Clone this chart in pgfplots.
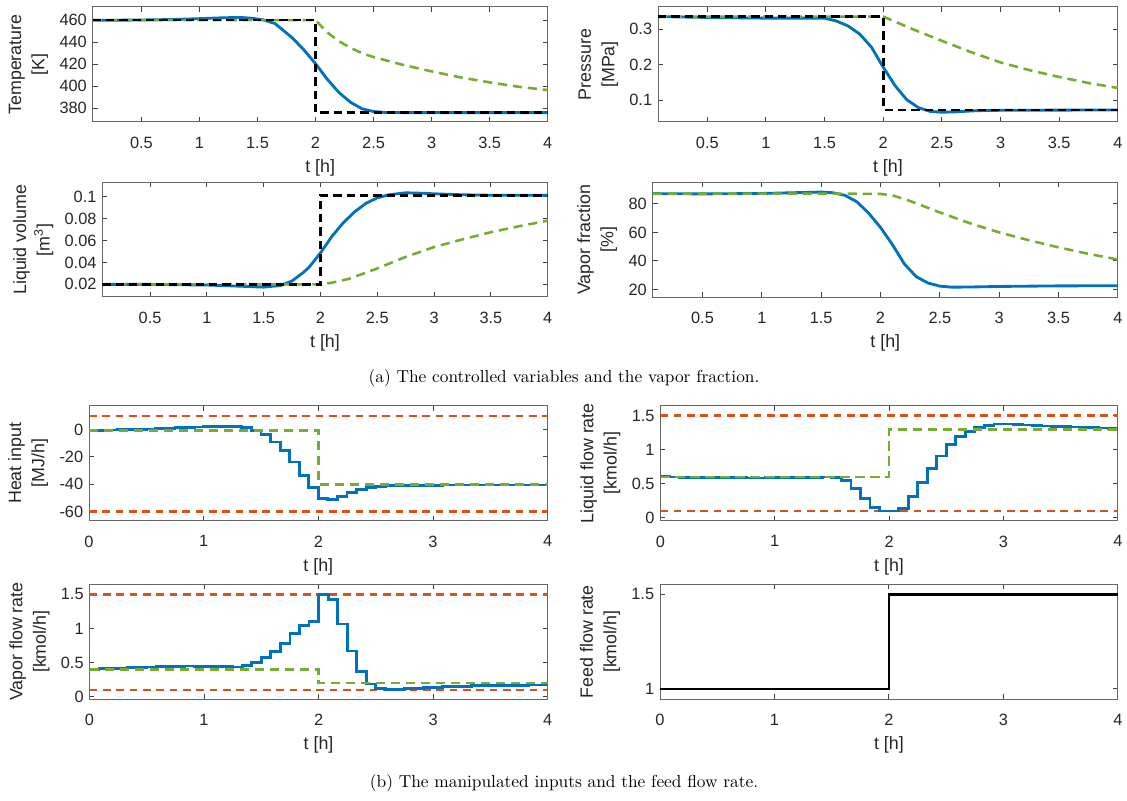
\documentclass[border=0pt]{standalone}
\usepackage{fontspec}
\usepackage{pgfplots}
\usepackage{pgfplotstable}
\pgfplotsset{compat=1.18}
\newfontfamily\mfont{Liberation Sans}
\definecolor{mblue}{rgb}{0,0.447,0.741}
\definecolor{mgreen}{rgb}{0.466,0.674,0.188}
\definecolor{morange}{rgb}{0.85,0.325,0.098}

\pgfplotstableread{
t      heat   liq    vap
0.0000 -0.5   0.600  0.405
0.0833 -0.5   0.598  0.408
0.1667 -0.4   0.596  0.412
0.2500 -0.3   0.594  0.418
0.3333 -0.2   0.592  0.424
0.4167 0.0    0.590  0.430
0.5000 0.3    0.588  0.436
0.5833 0.6    0.586  0.441
0.6667 0.9    0.585  0.445
0.7500 1.2    0.584  0.448
0.8333 1.5    0.584  0.450
0.9167 1.8    0.585  0.449
1.0000 2.0    0.586  0.446
1.0833 2.2    0.588  0.442
1.1667 2.4    0.591  0.438
1.2500 2.3    0.594  0.437
1.3333 1.5    0.597  0.46
1.4167 -0.8   0.598  0.50
1.5000 -3.9   0.594  0.57
1.5833 -9.2   0.55   0.665
1.6667 -15.2  0.433  0.783
1.7500 -23.8  0.287  0.93
1.8333 -33.5  0.154  1.05
1.9167 -42.6  0.100  1.10
2.0000 -50.2  0.100  1.50
2.0833 -51.2  0.138  1.43
2.1667 -49.0  0.310  1.066
2.2500 -46.0  0.516  0.671
2.3333 -44.0  0.726  0.368
2.4167 -42.6  0.908  0.188
2.5000 -41.6  1.079  0.124
2.5833 -41.1  1.190  0.110
2.6667 -40.9  1.264  0.110
2.7500 -40.8  1.328  0.115
2.8333 -40.7  1.357  0.122
2.9167 -40.7  1.377  0.130
3.0000 -40.7  1.377  0.140
3.0833 -40.6  1.370  0.146
3.1667 -40.6  1.362  0.152
3.2500 -40.6  1.355  0.156
3.3333 -40.6  1.348  0.160
3.4167 -40.5  1.342  0.163
3.5000 -40.5  1.337  0.165
3.5833 -40.5  1.332  0.167
3.6667 -40.5  1.327  0.168
3.7500 -40.5  1.322  0.170
3.8333 -40.5  1.318  0.171
3.9167 -40.5  1.315  0.172
4.0000 -40.5  1.315  0.172
}\inputs

\pgfplotsset{
  mstyle/.style={
    scale only axis, anchor=north west,
    axis line style={draw=black!60, line width=0.6pt},
    tick style={draw=black!75, line width=0.6pt},
    major tick length=3pt,
    tick align=inside,
    minor tick num=0,
    ticklabel style={font=\fontsize{9.8}{11}\mfont, text=black!85},
    xticklabel style={yshift=-5.5pt},
    label style={font=\fontsize{10.7}{14}\mfont, text=black!85},
    ylabel style={align=center},
    xlabel={t [h]},
    /pgf/number format/assume math mode=true,
    scaled ticks=false,
  },
  toprow/.style={mstyle, xmin=0.08, xmax=4, xtick={0.5,1,1.5,2,2.5,3,3.5,4},
    xticklabels={0.5,1,1.5,2,2.5,3,3.5,4}},
  botrow/.style={mstyle, xmin=0, xmax=4, xtick={0,1,2,3,4}, xticklabels={0,1,2,3,4}},
  sp/.style={black, line width=1.55pt, dash pattern=on 5pt off 3pt},
  bl/.style={mblue, line width=1.7pt},
  gr/.style={mgreen, line width=1.55pt, dash pattern=on 5.5pt off 3.5pt},
  lim/.style={morange, line width=1.5pt, dash pattern=on 4.6pt off 3.4pt},
}

\begin{document}
\begin{tikzpicture}
\useasboundingbox (0,0) rectangle (676.2pt,-480.6pt);

% Temperature
\begin{axis}[toprow, at={(55.6pt,-4.2pt)}, width=273pt, height=69pt,
  ymin=367.5, ymax=472, ytick={380,400,420,440,460}, yticklabels={380,400,420,440,460},
  ylabel={Temperature\\{[K]}}]
\addplot[bl] coordinates {(0.08,460) (0.3,460) (0.5,460.2) (0.75,460.6) (1.0,461.4) (1.2,462.2) (1.35,462.5) (1.45,461.8) (1.55,460.3) (1.65,457) (1.8,444) (1.9,433) (2.0,420.5) (2.1,406.5) (2.2,394.5) (2.3,385.5) (2.4,379.5) (2.5,377) (2.6,376.2) (2.8,376) (4,376)};
\addplot[gr] coordinates {(0.08,460) (2,460) (2.1,449) (2.2,441) (2.3,435) (2.4,430) (2.5,426.5) (2.75,419.5) (3,413.5) (3.25,408) (3.5,403.5) (3.75,399.5) (4,396.5)};
\addplot[sp] coordinates {(0.08,460) (2,460) (2,376) (4,376)};
\end{axis}

% Pressure
\begin{axis}[toprow, at={(394.8pt,-4.2pt)}, width=275.9pt, height=69pt,
  ymin=0.038, ymax=0.3625, ytick={0.1,0.2,0.3}, yticklabels={0.1,0.2,0.3},
  ylabel={Pressure\\{[MPa]}}]
\addplot[bl] coordinates {(0.08,0.3355) (0.5,0.333) (1.0,0.331) (1.5,0.331) (1.6,0.323) (1.7,0.309) (1.8,0.286) (1.9,0.249) (2.0,0.1925) (2.1,0.141) (2.2,0.101) (2.3,0.0785) (2.4,0.068) (2.5,0.0655) (2.6,0.0664) (2.8,0.070) (3,0.071) (4,0.072)};
\addplot[gr] coordinates {(0.08,0.3355) (2,0.3355) (2.25,0.300) (2.5,0.267) (2.75,0.235) (3,0.206) (3.25,0.184) (3.5,0.165) (3.75,0.148) (4,0.134)};
\addplot[sp] coordinates {(0.08,0.3355) (2,0.3355) (2,0.0717) (4,0.0717)};
\end{axis}

% Liquid volume
\begin{axis}[toprow, at={(61.4pt,-109.5pt)}, width=267.2pt, height=68.7pt,
  ymin=0.0085, ymax=0.1128, ytick={0.02,0.04,0.06,0.08,0.1}, yticklabels={0.02,0.04,0.06,0.08,0.1},
  ylabel={Liquid volume\\{[m\textsuperscript{3}]}}]
\addplot[bl] coordinates {(0.08,0.02) (0.5,0.02) (1.0,0.0194) (1.25,0.0185) (1.5,0.0175) (1.65,0.019) (1.75,0.0231) (1.85,0.0309) (1.9,0.0356) (2.0,0.0486) (2.1,0.0636) (2.2,0.076) (2.3,0.086) (2.4,0.0938) (2.5,0.0988) (2.6,0.1016) (2.75,0.1034) (2.9,0.103) (3.0,0.1025) (3.25,0.1016) (3.5,0.1012) (4,0.1012)};
\addplot[gr] coordinates {(0.08,0.02) (2,0.02) (2.1,0.0215) (2.25,0.025) (2.5,0.0345) (2.75,0.045) (3,0.054) (3.25,0.061) (3.5,0.0675) (3.75,0.073) (4,0.078)};
\addplot[sp] coordinates {(0.08,0.02) (2,0.02) (2,0.1012) (4,0.1012)};
\end{axis}

% Vapor fraction
\begin{axis}[toprow, at={(391.6pt,-109.5pt)}, width=279.1pt, height=68.7pt,
  ymin=14.7, ymax=95, ytick={20,40,60,80}, yticklabels={20,40,60,80},
  ylabel={Vapor fraction\\{[\%]}}]
\addplot[bl] coordinates {(0.08,87.2) (0.5,87) (1.0,87.3) (1.25,87.8) (1.5,88.3) (1.6,87.8) (1.7,86) (1.8,81.5) (1.9,73.5) (2.0,63.5) (2.1,51.5) (2.2,38) (2.3,29) (2.4,24.5) (2.5,22.3) (2.6,21.6) (2.75,21.7) (3,22.1) (3.5,22.5) (4,22.6)};
\addplot[gr] coordinates {(0.08,87.2) (1.5,87.2) (2.0,87) (2.1,86) (2.25,82) (2.5,74) (2.75,66.5) (3,60) (3.25,54.5) (3.5,49.5) (3.75,45) (4,41)};
\end{axis}

\node[font=\fontsize{10.4}{12.5}\selectfont] at (338.4pt,-226.8pt) {(a) The controlled variables and the vapor fraction.};

% Heat input
\begin{axis}[botrow, at={(53.4pt,-243.4pt)}, width=275.2pt, height=69pt,
  ymin=-66.6, ymax=17.4, ytick={-60,-40,-20,0}, yticklabels={-60,-40,-20,0},
  ylabel={Heat input\\{[MJ/h]}}]
\addplot[lim] coordinates {(0,10) (4,10)};
\addplot[lim] coordinates {(0,-60) (4,-60)};
\addplot[bl, const plot] table[x=t, y=heat] {\inputs};
\addplot[gr] coordinates {(0,-0.7) (2,-0.7) (2,-40.2) (4,-40.2)};
\end{axis}

% Liquid flow rate
\begin{axis}[botrow, at={(396.2pt,-243.4pt)}, width=274.5pt, height=69pt,
  ymin=-0.043, ymax=1.646, ytick={0,0.5,1,1.5}, yticklabels={0,0.5,1,1.5},
  ylabel={Liquid flow rate\\{[kmol/h]}}]
\addplot[lim] coordinates {(0,1.5) (4,1.5)};
\addplot[lim] coordinates {(0,0.1) (4,0.1)};
\addplot[bl, const plot] table[x=t, y=liq] {\inputs};
\addplot[gr] coordinates {(0,0.6) (2,0.6) (2,1.3) (4,1.3)};
\end{axis}

% Vapor flow rate
\begin{axis}[botrow, at={(53.7pt,-350.6pt)}, width=274.9pt, height=68.8pt,
  ymin=-0.033, ymax=1.647, ytick={0,0.5,1,1.5}, yticklabels={0,0.5,1,1.5},
  ylabel={Vapor flow rate\\{[kmol/h]}}]
\addplot[lim] coordinates {(0,1.5) (4,1.5)};
\addplot[lim] coordinates {(0,0.1) (4,0.1)};
\addplot[bl, const plot] table[x=t, y=vap] {\inputs};
\addplot[gr] coordinates {(0,0.4) (2,0.4) (2,0.2) (4,0.2)};
\end{axis}

% Feed flow rate
\begin{axis}[botrow, at={(396pt,-350.6pt)}, width=274.7pt, height=68.8pt,
  ymin=0.947, ymax=1.553, ytick={1,1.5}, yticklabels={1,1.5},
  ylabel={Feed flow rate\\{[kmol/h]}}]
\addplot[black, line width=1.7pt] coordinates {(0,1) (2,1) (2,1.5) (4,1.5)};
\end{axis}

\node[font=\fontsize{10.4}{12.5}\selectfont] at (338.4pt,-469.8pt) {(b) The manipulated inputs and the feed flow rate.};
\end{tikzpicture}
\end{document}
